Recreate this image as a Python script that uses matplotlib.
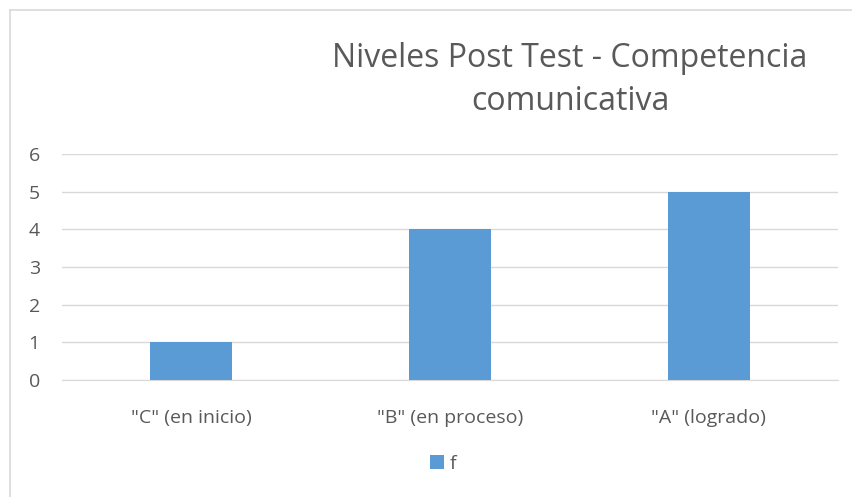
import matplotlib
matplotlib.use("Agg")
import matplotlib.pyplot as plt
from matplotlib.lines import Line2D

categories = ['"C" (en inicio)', '"B" (en proceso)', '"A" (logrado)']
values = [1, 4, 5]
series_name = "f"
yticks = [0, 1, 2, 3, 4, 5, 6]

plt.rcParams['font.family'] = ['Open Sans', 'DejaVu Sans']
W, H = 852, 497
fig = plt.figure(figsize=(W/100, H/100), dpi=100)
fig.patch.set_facecolor('white')
fig.add_artist(Line2D([9.5/W, 9.5/W], [0, 1-9.5/H], transform=fig.transFigure, color='#D9D9D9', lw=1.2))
fig.add_artist(Line2D([9.5/W, 1], [1-9.5/H, 1-9.5/H], transform=fig.transFigure, color='#D9D9D9', lw=1.2))

ax = fig.add_axes([62/W, 1-380/H, (838-62)/W, (380-154)/H])
x = list(range(len(categories)))
ax.bar(x, values, width=0.317, color='#5B9BD5', zorder=3, label=series_name)
ax.set_xlim(-0.5, len(categories)-0.5)
ax.set_ylim(0, 6)
ax.set_yticks(yticks)
ax.set_xticks(x)
ax.set_xticklabels(categories)
ax.grid(axis='y', color='#D9D9D9', linewidth=1, zorder=0)
for s in ['top', 'right', 'left']:
    ax.spines[s].set_visible(False)
ax.spines['bottom'].set_color('#D9D9D9')
ax.tick_params(axis='both', length=0, labelsize=14, colors='#595959')
ax.tick_params(axis='y', pad=16)
ax.tick_params(axis='x', pad=21)

fig.text(570/W, 1-80/H, "Niveles Post Test - Competencia\ncomunicativa", ha='center', va='center',
         fontsize=23, color='#595959', linespacing=1.4)

leg = fig.legend(loc='center', bbox_to_anchor=(443/W, 1-464/H), frameon=False,
                 fontsize=14, handlelength=0.7, handleheight=0.7, handletextpad=0.3)
for t in leg.get_texts():
    t.set_color('#595959')

fig.savefig("out.png", dpi=100, facecolor='white')
